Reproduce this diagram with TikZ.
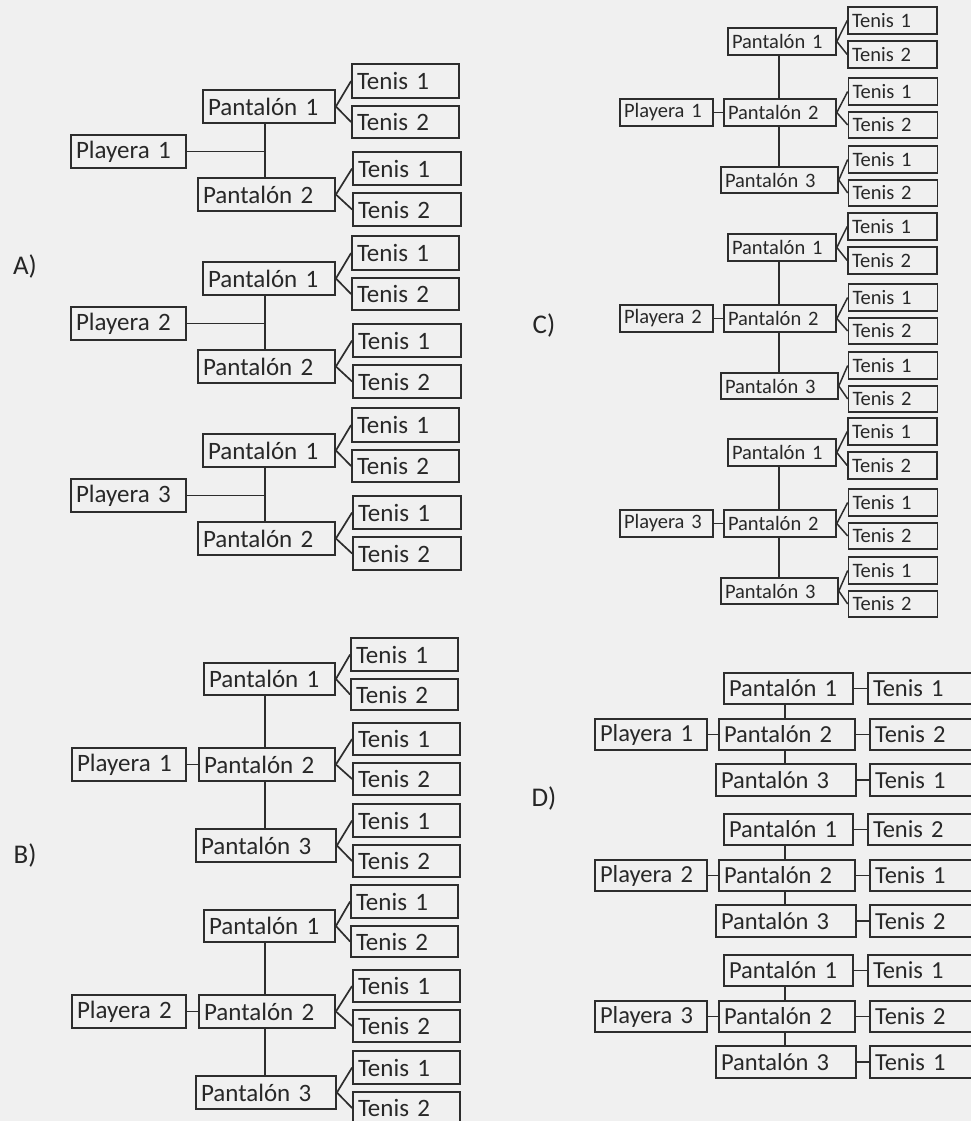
\documentclass[tikz,border=0pt]{standalone}
\usepackage{fontspec}
\setmainfont{Carlito}[WordSpace=0.6]
\definecolor{bg}{RGB}{240,240,240}
\definecolor{edge}{RGB}{45,45,45}
\definecolor{txt}{RGB}{40,40,40}
\begin{document}
\begin{tikzpicture}[x=1pt,y=-1pt,
  box/.style={draw=edge,line width=1.8pt,fill=bg,rectangle,inner xsep=5pt,inner ysep=0pt,
    align=left,text=txt,font=\fontsize{25}{25}\selectfont},
  dbox/.style={box,font=\fontsize{24.5}{24.5}\selectfont},
  sbox/.style={box,inner xsep=4pt,line width=1.6pt,font=\fontsize{20.5}{20.5}\selectfont},
  link/.style={draw=edge,line width=1.7pt},
  slink/.style={draw=edge,line width=1.5pt},
  lbl/.style={text=black!85,font=\fontsize{27}{27}\selectfont}]
\useasboundingbox (0,0) rectangle (971,1121);
\clip (0,0) rectangle (971,1121);
\fill[bg] (0,0) rectangle (971,1121);

% option labels
\node[lbl] (la) at (25,266) {A)};
\node[lbl] (lb) at (25,855) {B)};
\node[lbl] (lc) at (544,325) {C)};
\node[lbl] (ld) at (544,798) {D)};

% A) three shirts, two trousers each, two shoes each
\foreach \g/\dy in {1/0,2/172,3/344}{
  \begin{scope}[shift={(0,\dy)}]
    \node[box,text width=105pt,minimum height=33pt] (A\g pl) at (128.5,151.5) {Playera \g};
    \node[box,text width=122pt,minimum height=33pt] (A\g p1) at (269,106.5) {Pantalón 1};
    \node[box,text width=127pt,minimum height=33pt] (A\g p2) at (266.5,194.5) {Pantalón 2};
    \node[box,text width=97pt,minimum height=34pt] (A\g t11) at (405.5,81) {Tenis 1};
    \node[box,text width=97pt,minimum height=32pt] (A\g t12) at (405.5,122) {Tenis 2};
    \node[box,text width=98pt,minimum height=33pt] (A\g t21) at (407,168.5) {Tenis 1};
    \node[box,text width=98pt,minimum height=33pt] (A\g t22) at (407,209.5) {Tenis 2};
    \coordinate (A\g j) at (265,151.5);
    \draw[link] (A\g pl.east) -- (A\g j);
    \draw[link] (A\g p1.south -| A\g j) -- (A\g p2.north -| A\g j);
    \draw[link] (A\g p1.east) -- (A\g t11.west);
    \draw[link] (A\g p1.east) -- (A\g t12.west);
    \draw[link] (A\g p2.east) -- (A\g t21.west);
    \draw[link] (A\g p2.east) -- (A\g t22.west);
  \end{scope}
}

% B) two shirts, three trousers each, two shoes each
\foreach \g/\dy in {1/0,2/247}{
  \begin{scope}[shift={(0,\dy)}]
    \node[box,text width=104pt,minimum height=33pt] (B\g pl) at (129,764.5) {Playera \g};
    \node[box,text width=121pt,minimum height=32pt] (B\g p1) at (269.5,679) {Pantalón 1};
    \node[box,text width=126pt,minimum height=33pt] (B\g p2) at (267,764.5) {Pantalón 2};
    \node[box,text width=130pt,minimum height=33pt] (B\g p3) at (266,845.5) {Pantalón 3};
    \node[box,text width=97pt,minimum height=33pt] (B\g t11) at (404.5,654.5) {Tenis 1};
    \node[box,text width=97pt,minimum height=31pt] (B\g t12) at (404.5,694.5) {Tenis 2};
    \node[box,text width=97pt,minimum height=32pt] (B\g t21) at (406.5,739) {Tenis 1};
    \node[box,text width=97pt,minimum height=32pt] (B\g t22) at (406.5,779) {Tenis 2};
    \node[box,text width=97pt,minimum height=33pt] (B\g t31) at (406.5,820.5) {Tenis 1};
    \node[box,text width=97pt,minimum height=32pt] (B\g t32) at (406.5,861) {Tenis 2};
    \coordinate (B\g v) at (265,764.5);
    \draw[link] (B\g pl.east) -- (B\g p2.west);
    \draw[link] (B\g p1.south -| B\g v) -- (B\g p2.north -| B\g v);
    \draw[link] (B\g p2.south -| B\g v) -- (B\g p3.north -| B\g v);
    \foreach \k in {1,2,3}{
      \draw[link] (B\g p\k.east) -- (B\g t\k 1.west);
      \draw[link] (B\g p\k.east) -- (B\g t\k 2.west);
    }
  \end{scope}
}

% C) three shirts, three trousers each, two shoes each
\foreach \g/\dy in {1/0,2/206,3/411}{
  \begin{scope}[shift={(0,\dy)}]
    \node[sbox,text width=85pt,minimum height=27pt] (C\g pl) at (666.5,112.5) {Playera \g};
    \node[sbox,text width=100pt,minimum height=27pt] (C\g p1) at (782,41.5) {Pantalón 1};
    \node[sbox,text width=104pt,minimum height=27pt] (C\g p2) at (780,112.5) {Pantalón 2};
    \node[sbox,text width=109pt,minimum height=26pt] (C\g p3) at (779.5,180) {Pantalón 3};
    \node[sbox,text width=81pt,minimum height=27pt] (C\g t11) at (892.5,20.5) {Tenis 1};
    \node[sbox,text width=81pt,minimum height=27pt] (C\g t12) at (892.5,54.5) {Tenis 2};
    \node[sbox,text width=81pt,minimum height=27pt] (C\g t21) at (893,91.5) {Tenis 1};
    \node[sbox,text width=81pt,minimum height=26pt] (C\g t22) at (893,125) {Tenis 2};
    \node[sbox,text width=81pt,minimum height=27pt] (C\g t31) at (893,159.5) {Tenis 1};
    \node[sbox,text width=81pt,minimum height=26pt] (C\g t32) at (893,193) {Tenis 2};
    \coordinate (C\g v) at (779,112.5);
    \draw[slink] (C\g pl.east) -- (C\g p2.west);
    \draw[slink] (C\g p1.south -| C\g v) -- (C\g p2.north -| C\g v);
    \draw[slink] (C\g p2.south -| C\g v) -- (C\g p3.north -| C\g v);
    \foreach \k in {1,2,3}{
      \draw[slink] (C\g p\k.east) -- (C\g t\k 1.west);
      \draw[slink] (C\g p\k.east) -- (C\g t\k 2.west);
    }
  \end{scope}
}

% D) three shirts, three trousers each, one shoe each
\foreach \g/\dy/\ta/\tb/\tc in {1/0/1/2/1,2/141/2/1/2,3/282/1/2/1}{
  \begin{scope}[shift={(0,\dy)}]
    \node[dbox,text width=102pt,minimum height=31pt] (D\g pl) at (651,734.5) {Playera \g};
    \node[dbox,text width=119pt,minimum height=31pt] (D\g p1) at (788.5,688.5) {Pantalón 1};
    \node[dbox,text width=126pt,minimum height=31pt] (D\g p2) at (787,734.5) {Pantalón 2};
    \node[dbox,text width=130pt,minimum height=32pt] (D\g p3) at (786,780) {Pantalón 3};
    \node[dbox,text width=105pt,minimum height=31pt] (D\g t1) at (925.5,688.5) {Tenis \ta};
    \node[dbox,text width=105pt,minimum height=31pt] (D\g t2) at (927.5,734.5) {Tenis \tb};
    \node[dbox,text width=105pt,minimum height=32pt] (D\g t3) at (927.5,780) {Tenis \tc};
    \coordinate (D\g v) at (785,734.5);
    \draw[link] (D\g pl.east) -- (D\g p2.west);
    \draw[link] (D\g p1.south -| D\g v) -- (D\g p2.north -| D\g v);
    \draw[link] (D\g p2.south -| D\g v) -- (D\g p3.north -| D\g v);
    \foreach \k in {1,2,3}{
      \draw[link] (D\g p\k.east) -- (D\g t\k.west);
    }
  \end{scope}
}
\end{tikzpicture}
\end{document}
